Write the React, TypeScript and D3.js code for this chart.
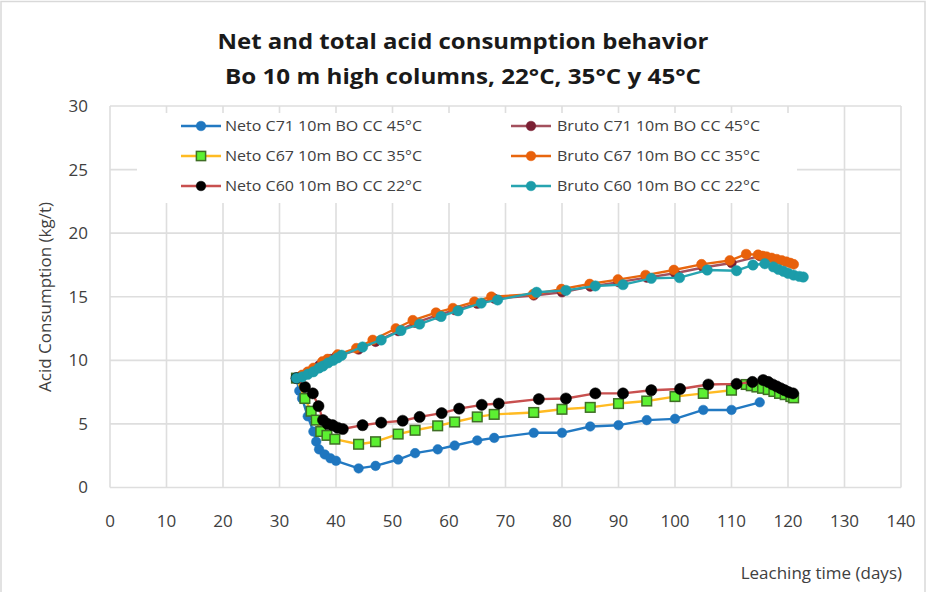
import React from 'react';
import * as d3 from 'd3';

const WIDTH = 933;
const HEIGHT = 592;

const titleLines = ['Net and total acid consumption behavior', 'Bo 10 m high columns, 22°C, 35°C y 45°C'];
const xTickLabels = [0, 10, 20, 30, 40, 50, 60, 70, 80, 90, 100, 110, 120, 130, 140];
const yTickLabels = [0, 5, 10, 15, 20, 25, 30];

const netoC71Days = [33, 33.5, 34, 35, 36, 36.5, 37, 38, 39, 40, 44, 47, 51, 54, 58, 61, 65, 68, 75, 80, 85, 90, 95, 100, 105, 110, 115];
const netoC71Values = [8.6, 7.6, 7.0, 5.6, 4.4, 3.6, 3.0, 2.6, 2.3, 2.1, 1.5, 1.7, 2.2, 2.7, 3.0, 3.3, 3.7, 3.9, 4.3, 4.3, 4.8, 4.9, 5.3, 5.4, 6.1, 6.1, 6.7];

const brutoC71Days = [33, 34, 35, 36, 37, 38, 39, 40, 44, 47, 51, 54, 58, 61, 65, 68, 75, 80, 85, 90, 95, 100, 105, 110, 115];
const brutoC71Values = [8.6, 8.8, 9.05, 9.3, 9.6, 9.85, 10.1, 10.3, 10.85, 11.45, 12.3, 12.95, 13.55, 13.95, 14.45, 14.85, 15.1, 15.35, 15.8, 16.15, 16.5, 16.85, 17.3, 17.65, 18.2];

const netoC67Days = [33, 34.5, 35.6, 36.5, 37.3, 38.4, 39.8, 44, 47, 51, 54, 58, 61, 65, 68, 75, 80, 85, 90, 95, 100, 105, 110, 112.6, 113.5, 114.5, 115.5, 116.5, 117.5, 118.5, 119.5, 120.5, 121];
const netoC67Values = [8.6, 7.0, 6.0, 5.3, 4.4, 4.1, 3.8, 3.4, 3.6, 4.2, 4.5, 4.85, 5.15, 5.55, 5.75, 5.9, 6.15, 6.3, 6.6, 6.8, 7.15, 7.4, 7.65, 8.1, 8.0, 7.9, 7.8, 7.7, 7.55, 7.4, 7.3, 7.15, 7.05];

const brutoC67Days = [33, 34, 35, 36, 37.6, 38.5, 40.3, 43.6, 46.5, 50.6, 53.6, 57.7, 60.7, 64.5, 67.5, 74.9, 79.9, 84.9, 89.9, 94.8, 99.8, 104.7, 109.7, 112.6, 114.7, 115.5, 116.2, 117.1, 118, 118.9, 119.7, 120.4, 121];
const brutoC67Values = [8.6, 8.85, 9.1, 9.4, 9.9, 10.1, 10.45, 10.95, 11.6, 12.5, 13.15, 13.75, 14.1, 14.6, 15.0, 15.2, 15.6, 16.0, 16.35, 16.7, 17.1, 17.55, 17.85, 18.35, 18.3, 18.2, 18.15, 18.05, 17.95, 17.85, 17.75, 17.65, 17.55];

const netoC60Days = [33, 34.5, 35.9, 36.9, 37.7, 38.5, 39.4, 40.3, 41.2, 44.7, 48, 51.8, 54.8, 58.7, 61.8, 65.8, 68.8, 75.9, 80.7, 85.9, 90.8, 95.8, 100.9, 105.9, 110.9, 113.7, 115.6, 116.5, 117.3, 118, 118.7, 119.4, 120.1, 120.9];
const netoC60Values = [8.6, 7.9, 7.4, 6.4, 5.3, 5.0, 4.9, 4.7, 4.6, 4.9, 5.1, 5.25, 5.55, 5.85, 6.2, 6.5, 6.6, 6.95, 7.0, 7.4, 7.4, 7.65, 7.75, 8.1, 8.15, 8.3, 8.45, 8.3, 8.1, 7.95, 7.8, 7.65, 7.5, 7.4];

const brutoC60Days = [33, 34, 35, 36, 37, 37.7, 38.6, 39.5, 40.3, 41, 44.7, 48, 51.5, 54.8, 58.6, 61.6, 65.7, 68.6, 75.5, 80.7, 85.9, 90.8, 95.8, 100.8, 105.7, 110.9, 113.8, 115.9, 117.4, 118.3, 119.2, 120, 121, 122, 122.7];
const brutoC60Values = [8.6, 8.7, 8.9, 9.1, 9.4, 9.55, 9.8, 10.0, 10.2, 10.4, 11.05, 11.6, 12.35, 12.85, 13.45, 13.9, 14.5, 14.75, 15.35, 15.5, 15.85, 15.95, 16.45, 16.5, 17.1, 17.05, 17.5, 17.6, 17.35, 17.15, 17.0, 16.85, 16.7, 16.6, 16.55];

type Series = {
  name: string;
  days: number[];
  values: number[];
  line: string;
  fill: string;
  stroke: string;
  shape: 'circle' | 'square';
  r: number;
};

// Excel draws in this order, later series end up on top
const SERIES: Series[] = [
  { name: 'Neto C71 10m BO CC 45°C', days: netoC71Days, values: netoC71Values, line: '#2279c2', fill: '#1f76bf', stroke: '#1f76bf', shape: 'circle', r: 4.8 },
  { name: 'Bruto C71 10m BO CC 45°C', days: brutoC71Days, values: brutoC71Values, line: '#a3505d', fill: '#7a1f33', stroke: '#7a1f33', shape: 'circle', r: 4.8 },
  { name: 'Neto C67 10m BO CC 35°C', days: netoC67Days, values: netoC67Values, line: '#ffbb22', fill: '#5cf032', stroke: '#3f6e25', shape: 'square', r: 4.8 },
  { name: 'Bruto C67 10m BO CC 35°C', days: brutoC67Days, values: brutoC67Values, line: '#e8660e', fill: '#e8600a', stroke: '#e8600a', shape: 'circle', r: 5 },
  { name: 'Neto C60 10m BO CC 22°C', days: netoC60Days, values: netoC60Values, line: '#c8504f', fill: '#000000', stroke: '#000000', shape: 'circle', r: 5.6 },
  { name: 'Bruto C60 10m BO CC 22°C', days: brutoC60Days, values: brutoC60Values, line: '#27a4b0', fill: '#1b9ca9', stroke: '#1b9ca9', shape: 'circle', r: 5.2 },
];

// legend is filled row by row, two columns
const LEGEND_COLS = [{ lineX: 181, textX: 225 }, { lineX: 511, textX: 557 }];
const LEGEND_ROWS = [126, 156, 186];

const FONT = "'Open Sans', 'Noto Sans', sans-serif";

const Marker = ({ s, x, y, r }: { s: Series; x: number; y: number; r?: number }) => {
  const rr = r ?? s.r;
  if (s.shape === 'square') {
    return <rect x={x - rr} y={y - rr} width={rr * 2} height={rr * 2} fill={s.fill} stroke={s.stroke} strokeWidth={1.5} />;
  }
  return <circle cx={x} cy={y} r={rr} fill={s.fill} stroke={s.stroke} strokeWidth={0.5} />;
};

const App = () => {
  const xScale = d3.scaleLinear().domain([0, 140]).range([110, 901]);
  const yScale = d3.scaleLinear().domain([0, 30]).range([487.5, 106]);

  const line = d3.line<[number, number]>()
    .x(d => xScale(d[0]))
    .y(d => yScale(d[1]));

  return (
    <svg width={WIDTH} height={HEIGHT} style={{ position: 'absolute', left: 0, top: 0, background: '#fff' }}>
      <rect x={1} y={1.5} width={924} height={HEIGHT + 5} fill="#fff" stroke="#d9d9d9" strokeWidth={1.5} />

      {/* gridlines */}
      {yTickLabels.map(t => (
        <line key={`gy${t}`} x1={110} x2={901} y1={yScale(t)} y2={yScale(t)} stroke="#dedede" strokeWidth={1.6} />
      ))}
      {xTickLabels.map(t => (
        <line key={`gx${t}`} x1={xScale(t)} x2={xScale(t)} y1={106} y2={487.5} stroke="#dedede" strokeWidth={1.6} />
      ))}

      {/* tick labels */}
      {yTickLabels.map(t => (
        <text key={`ly${t}`} x={88} y={yScale(t)} dy="0.35em" textAnchor="end" fontFamily={FONT} fontSize={17} fill="#404040">{t}</text>
      ))}
      {xTickLabels.map(t => (
        <text key={`lx${t}`} x={xScale(t)} y={521} dy="0.35em" textAnchor="middle" fontFamily={FONT} fontSize={17} fill="#404040">{t}</text>
      ))}

      {/* legend background hides gridlines behind it */}
      <rect x={137} y={113} width={660} height={90} fill="#fff" />

      {/* series */}
      {SERIES.map(s => {
        const pts = s.days.map((d, i) => [d, s.values[i]] as [number, number]);
        return (
          <g key={s.name}>
            <path d={line(pts) ?? ''} fill="none" stroke={s.line} strokeWidth={2.4} strokeLinejoin="round" />
            {pts.map((p, i) => (
              <Marker key={i} s={s} x={xScale(p[0])} y={yScale(p[1])} />
            ))}
          </g>
        );
      })}

      {/* legend */}
      {SERIES.map((s, i) => {
        const col = LEGEND_COLS[i % 2];
        const y = LEGEND_ROWS[Math.floor(i / 2)];
        return (
          <g key={`leg${i}`}>
            <line x1={col.lineX} x2={col.lineX + 40} y1={y} y2={y} stroke={s.line} strokeWidth={2.4} />
            <Marker s={s} x={col.lineX + 20} y={y} r={s.shape === 'square' ? 4.6 : 4.8} />
            <text x={col.textX} y={y} dy="0.35em" fontFamily={FONT} fontSize={14} fill="#404040"
              textLength={i % 2 === 0 ? 197 : 203} lengthAdjust="spacingAndGlyphs">{s.name}</text>
          </g>
        );
      })}

      {/* titles */}
      {titleLines.map((t, i) => (
        <text key={`t${i}`} x={463} y={42 + i * 35} dy="0.35em" textAnchor="middle" fontFamily={FONT} fontWeight="bold" fontSize={21}
          fill="#1a1a1a" textLength={i === 0 ? 491 : 476} lengthAdjust="spacingAndGlyphs">{t}</text>
      ))}

      <text transform={`translate(45,${297}) rotate(-90)`} textAnchor="middle" dy="0.35em" fontFamily={FONT} fontSize={17} fill="#404040">
        Acid Consumption (kg/t)
      </text>
      <text x={902} y={573} dy="0.35em" textAnchor="end" fontFamily={FONT} fontSize={17} fill="#404040">Leaching time (days)</text>
    </svg>
  );
};

export default App;
